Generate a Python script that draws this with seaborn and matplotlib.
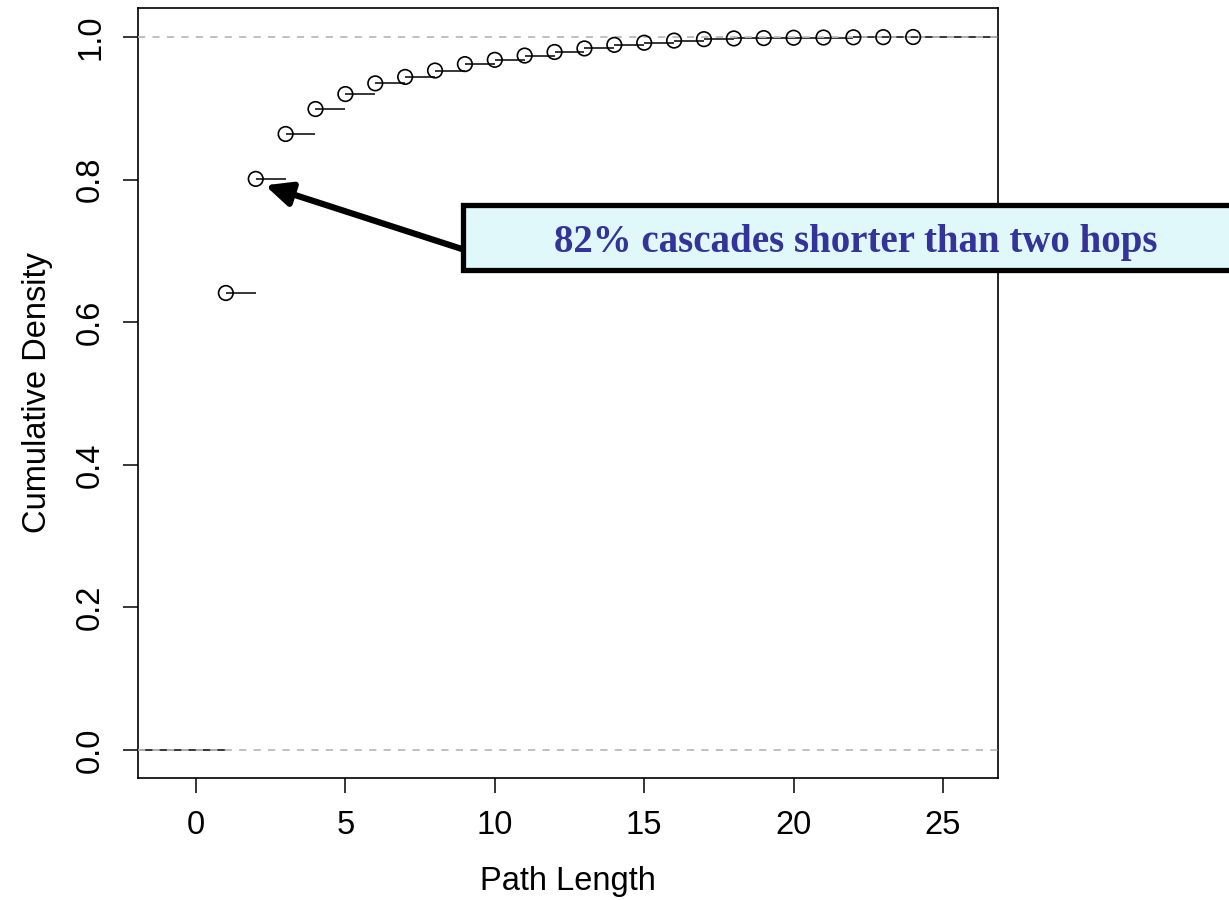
import numpy as np
import pandas as pd
import matplotlib
matplotlib.use("Agg")
import matplotlib.pyplot as plt
import seaborn as sns
from matplotlib.patches import Rectangle

# ---- data ----
path_length = [1, 2, 3, 4, 5, 6, 7, 8, 9, 10, 11, 12,
               13, 14, 15, 16, 17, 18, 19, 20, 21, 22, 23, 24]
cum_density = [0.641, 0.801, 0.864, 0.899, 0.920, 0.935, 0.944, 0.953,
               0.962, 0.968, 0.974, 0.979, 0.984, 0.989, 0.992, 0.995,
               0.997, 0.998, 0.9985, 0.999, 0.9993, 0.9996, 0.9998, 1.0]
x_ticks = [0, 5, 10, 15, 20, 25]
y_ticks = [0.0, 0.2, 0.4, 0.6, 0.8, 1.0]
y_tick_labels = ["0.0", "0.2", "0.4", "0.6", "0.8", "1.0"]
note_text = "82% cascades shorter than two hops"
note_target = (2.31, 0.792)

sns.set_theme(style="white")
plt.rcParams['font.family'] = ['Liberation Sans', 'DejaVu Sans']
plt.rcParams['text.color'] = 'black'
plt.rcParams['axes.labelcolor'] = 'black'

fig = plt.figure(figsize=(12.29, 9.0), dpi=100)
ax = fig.add_axes([138/1229, 1-778/900, (998-138)/1229, (778-8)/900])

xlim = (-1.94, 26.84)
ylim = (-0.0393, 1.0407)
ax.set_xlim(*xlim)
ax.set_ylim(*ylim)

df = pd.DataFrame({"x": path_length, "y": cum_density})
# step segments
x_end = list(path_length[1:]) + [xlim[1]]
ax.hlines(df["y"], df["x"], x_end, color="black", lw=1.1, zorder=2)
ax.hlines([0.0], [xlim[0]], [path_length[0]], color="black", lw=1.1, zorder=2)

# reference lines
ax.axhline(0.0, color="#bbbbbb", lw=1.3, ls=(0, (4, 4)), zorder=3)
ax.axhline(1.0, color="#bbbbbb", lw=1.3, ls=(0, (4, 4)), zorder=3)

sns.scatterplot(data=df, x="x", y="y", ax=ax, marker="o", s=110,
                facecolors="none", edgecolor="black", linewidth=1.2, zorder=4)

ax.set_xticks(x_ticks)
ax.set_xticklabels([str(t) for t in x_ticks])
ax.set_yticks(y_ticks)
ax.set_yticklabels(y_tick_labels, rotation=90, va="center")
ax.tick_params(axis="both", direction="out", length=11, width=1.1,
               labelsize=23.5, colors="black", pad=12)
ax.tick_params(axis="both", bottom=True, left=True)
for s in ax.spines.values():
    s.set_color("black")
    s.set_linewidth(1.2)

ax.set_xlabel("Path Length", fontsize=23.5, labelpad=18, color="black")
ax.set_ylabel("Cumulative Density", fontsize=23.5, labelpad=16, color="black")

# annotation box (clipped at right figure edge)
box = Rectangle((463/1229, 1-270/900), 0.75, (270-205)/900,
                transform=fig.transFigure, facecolor="#e1f8fb",
                edgecolor="black", linewidth=3.8, zorder=10)
fig.patches.append(box)
fig.text(856/1229, 1-242/900, note_text, ha="center", va="center",
         family=["Liberation Serif", "DejaVu Serif"], fontweight="bold",
         fontsize=28, color="#33339a", zorder=11)

ax.annotate("", xy=note_target, xycoords="data",
            xytext=(465/1229, 1-250/900), textcoords="figure fraction",
            arrowprops=dict(arrowstyle="-|>,head_length=1.3,head_width=0.6",
                            color="black", lw=4.5, shrinkA=0, shrinkB=0),
            zorder=9)

fig.savefig("out.png", dpi=100, facecolor="white")
